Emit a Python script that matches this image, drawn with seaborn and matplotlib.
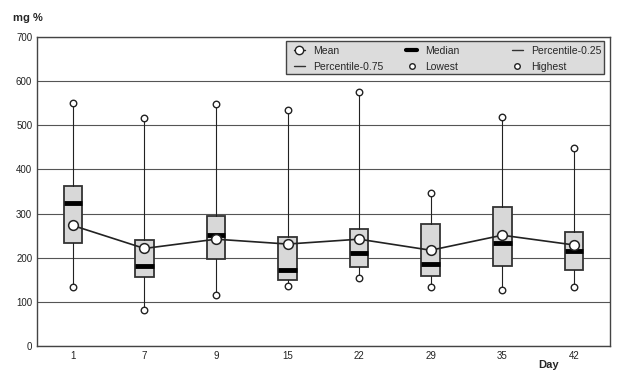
import numpy as np
import pandas as pd
import matplotlib
matplotlib.use("Agg")
import matplotlib.pyplot as plt
import seaborn as sns
from matplotlib.lines import Line2D
from matplotlib.legend import Legend
from matplotlib.patches import Rectangle

days = ["1", "7", "9", "15", "22", "29", "35", "42"]
mean = [273, 221, 242, 231, 242, 217, 251, 229]
median = [325, 181, 251, 173, 211, 186, 233, 215]
p25 = [233, 156, 198, 150, 178, 159, 181, 172]
p75 = [363, 240, 294, 248, 264, 276, 314, 258]
lowest = [134, 82, 115, 137, 154, 134, 128, 134]
highest = [550, 517, 549, 535, 575, 346, 518, 449]

df = pd.DataFrame({"Day": days, "Mean": mean, "Lowest": lowest, "Highest": highest})

sns.set_style("white")
plt.rcParams["font.family"] = ["Liberation Sans", "DejaVu Sans"]

fig, ax = plt.subplots(figsize=(6.39, 3.88), dpi=100)
fig.subplots_adjust(left=0.058, right=0.954, bottom=0.108, top=0.905)

stats = []
for i in range(len(days)):
    stats.append({"med": median[i], "q1": p25[i], "q3": p75[i],
                  "whislo": lowest[i], "whishi": highest[i], "fliers": []})

ax.bxp(stats, positions=range(len(days)), widths=0.26, showcaps=False,
       patch_artist=True, manage_ticks=False,
       boxprops=dict(facecolor="#d8d8d8", edgecolor="#333333", linewidth=1.3),
       whiskerprops=dict(color="#222222", linewidth=0.8),
       medianprops=dict(color="black", linewidth=3.5, solid_capstyle="butt"))

sns.pointplot(data=df, x="Day", y="Mean", color="#222222", markers="o",
              linewidth=1.2, markersize=7, markerfacecolor="white",
              markeredgecolor="#222222", markeredgewidth=1.1, ax=ax, zorder=5)
sns.scatterplot(data=df, x="Day", y="Lowest", marker="o", s=22, facecolor="white",
                edgecolor="#222222", linewidth=1.0, ax=ax, zorder=6)
sns.scatterplot(data=df, x="Day", y="Highest", marker="o", s=22, facecolor="white",
                edgecolor="#222222", linewidth=1.0, ax=ax, zorder=6)

ax.set_xlim(-0.5, len(days) - 0.5)
ax.set_ylim(0, 700)
ax.set_yticks(range(0, 701, 100))
ax.yaxis.grid(True, color="#555555", linewidth=0.8)
ax.set_axisbelow(True)
ax.tick_params(axis="both", labelsize=7, length=0, colors="#222222")
ax.set_xlabel("")
ax.set_ylabel("")
for s in ax.spines.values():
    s.set_color("#444444")
    s.set_linewidth(1.0)

fig.text(0.02, 0.945, "mg %", fontsize=8, fontweight="bold")
fig.text(0.843, 0.052, "Day", fontsize=8, fontweight="bold")

# legend: grey box with three equal columns
ax.add_patch(Rectangle((0.4346, 0.880), 0.555, 0.107, transform=ax.transAxes,
                       facecolor="#dcdcdc", edgecolor="#444444", linewidth=1.0,
                       zorder=7))
cols = [
    [Line2D([], [], color="#222222", lw=1.0, marker="o", markersize=6,
            markerfacecolor="white", label="Mean"),
     Line2D([], [], color="#333333", lw=1.0, label="Percentile-0.75")],
    [Line2D([], [], color="black", lw=3, label="Median"),
     Line2D([], [], color="#222222", lw=0, marker="o", markersize=4,
            markerfacecolor="white", label="Lowest")],
    [Line2D([], [], color="#333333", lw=1.0, label="Percentile-0.25"),
     Line2D([], [], color="#222222", lw=0, marker="o", markersize=4,
            markerfacecolor="white", label="Highest")],
]
for x0, hs in zip([0.449, 0.645, 0.830], cols):
    lg = Legend(ax, hs, [h.get_label() for h in hs], loc="upper left",
                bbox_to_anchor=(x0, 0.972), fontsize=7.5, frameon=False,
                handlelength=1.0, handletextpad=0.8, labelspacing=0.62,
                borderpad=0, borderaxespad=0)
    lg.set_zorder(8)
    ax.add_artist(lg)

plt.savefig("out.png", dpi=100)
